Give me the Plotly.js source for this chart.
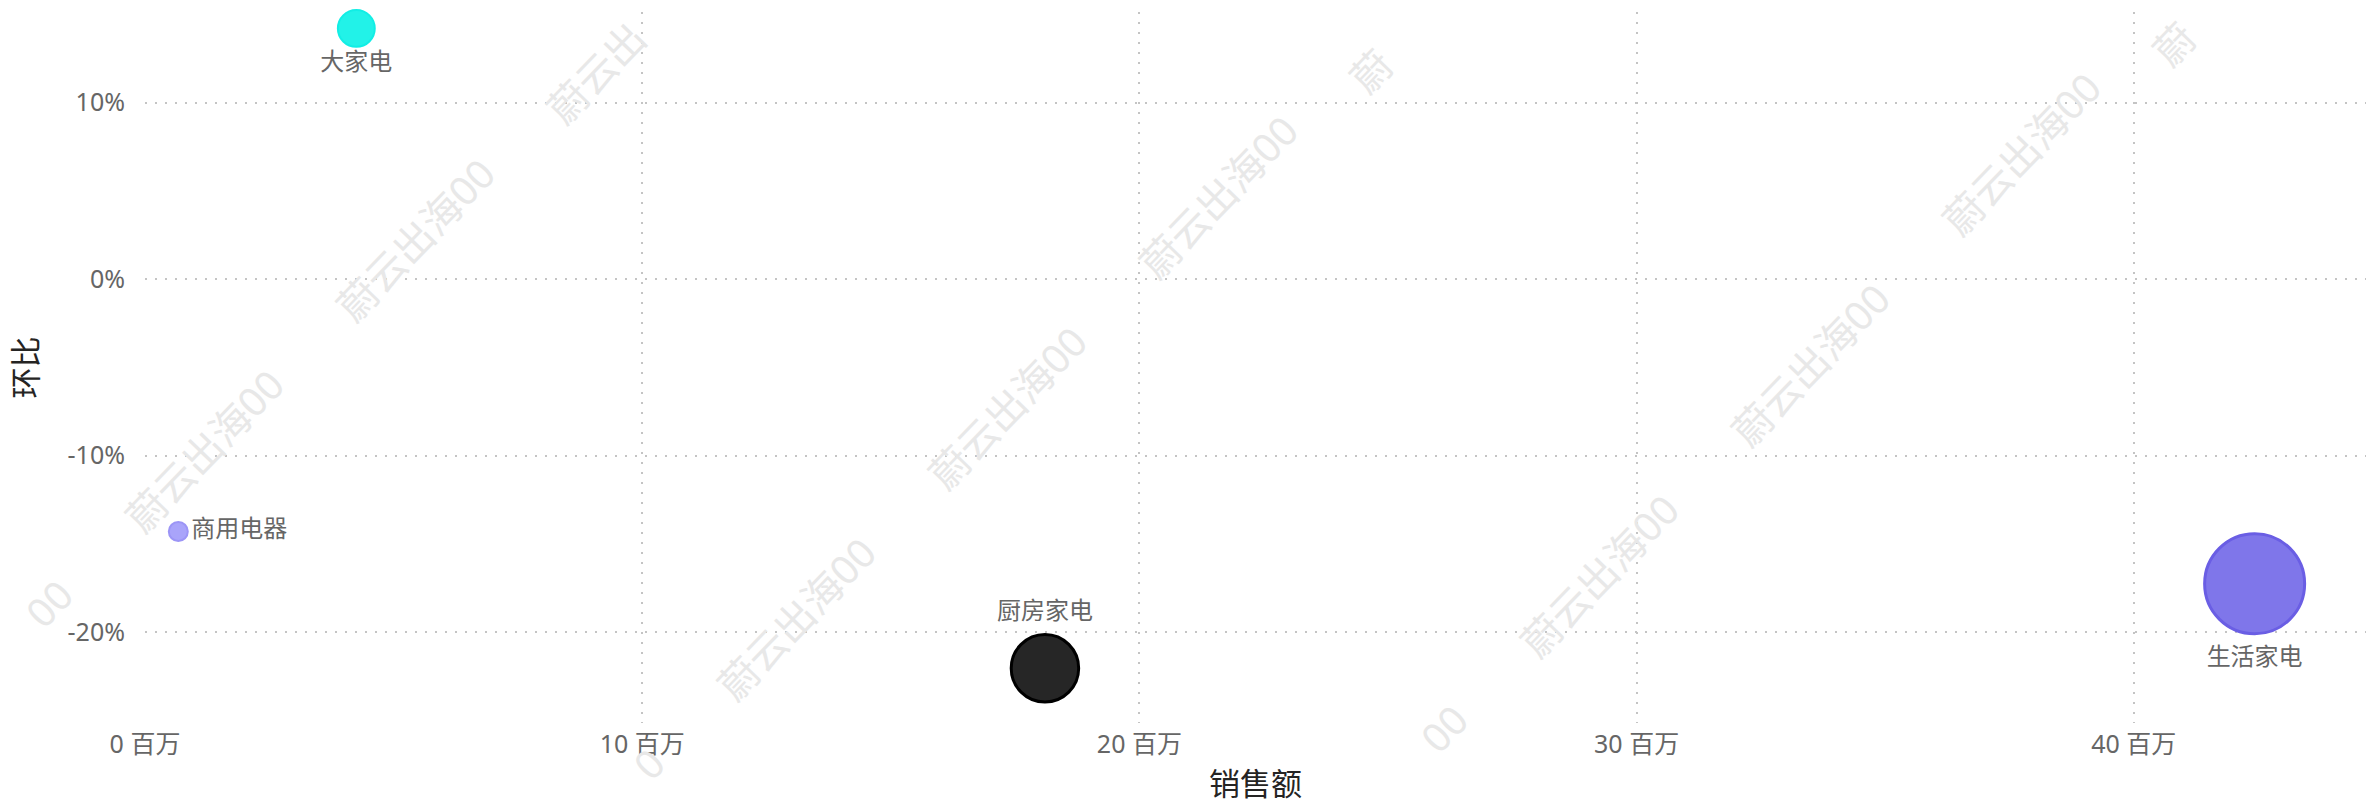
<!DOCTYPE html>
<html>
<head>
<meta charset="utf-8">
<script src="https://cdn.plot.ly/plotly-3.0.1.min.js"></script>
<style>
html,body{margin:0;padding:0;background:#fff;}
#chart{width:2368px;height:804px;}
</style>
</head>
<body>
<div id="chart"></div>
<script>
// ---- data ----
const categories = ['大家电', '商用电器', '厨房家电', '生活家电'];
const salesMillion = [4.25, 0.67, 18.1, 42.43];      // 销售额 (百万)
const momPercent = [14.2, -14.3, -22.05, -17.26];    // 环比 (%)
const xTickVals = [0, 10, 20, 30, 40];
const xTickText = ['0 百万', '10 百万', '20 百万', '30 百万', '40 百万'];
const yTickVals = [-20, -10, 0, 10];
const yTickText = ['-20%', '-10%', '0%', '10%'];
const watermarkText = '蔚云出海00';

// ---- styles ----
const fillColors = ['#22F2E8', '#A9A4FA', '#262626', '#7F76EA'];
const lineColors = ['#12EEE5', '#9C95F6', '#000000', '#6A5EE4'];
const lineWidths = [2, 2, 3, 3];
const labelPositions = ['bottom center', 'middle right', 'top center', 'bottom center'];
const FONT = 'Noto Sans, Noto Sans CJK SC, sans-serif';

// bubble diameter grows with sqrt of sales
const sizes = salesMillion.map((v, i) => 9.2 + 14.4 * Math.sqrt(v) - lineWidths[i]);

const trace = {
  type: 'scatter',
  mode: 'markers+text',
  x: salesMillion,
  y: momPercent,
  text: categories,
  textposition: labelPositions,
  textfont: {family: FONT, size: 24, color: '#666666'},
  marker: {
    size: sizes,
    sizemode: 'diameter',
    color: fillColors,
    opacity: 1,
    line: {color: lineColors, width: lineWidths}
  },
  cliponaxis: false,
  hoverinfo: 'skip'
};

// plot geometry (px)
const W = 2368, H = 804;
const M = {l: 145, r: 2, t: 12, b: 81};
const pw = W - M.l - M.r, ph = H - M.t - M.b;

// ---- watermark lattice (decoration) ----
const WM_SIZE = 40, WM_ANGLE = 46;
const dirX = Math.cos(WM_ANGLE * Math.PI / 180), dirY = -Math.sin(WM_ANGLE * Math.PI / 180);
const chars = Array.from(watermarkText);
const cw = chars.map(c => /[0-9]/.test(c) ? 0.57 * WM_SIZE : WM_SIZE);
const totalW = cw.reduce((a, b) => a + b, 0);
const base = [415, 239], step = [211, -211], offs = [592, 168];
// [i, j, firstChar, lastChar, extra y shift] ; edge copies keep only their visible part
const wmCells = [
  [1, 0, 0, 2, 14], [0, 0, 0, 5, 0], [-1, 0, 0, 5, 0], [-2, 0, 4, 5, 0],
  [2, 1, 0, 0, 26], [1, 1, 0, 5, 0], [0, 1, 0, 5, 0], [-1, 1, 0, 5, 0], [-2, 1, 5, 5, 0],
  [3, 2, 0, 0, 42], [2, 2, 0, 5, 0], [1, 2, 0, 5, 0], [0, 2, 0, 5, 0], [-1, 2, 4, 5, 0]
];
const annotations = wmCells.map(([i, j, a, b, dy]) => {
  const cx = base[0] + i * step[0] + j * offs[0];
  const cy = base[1] + i * step[1] + j * offs[1];
  let start = -totalW / 2;
  for (let k = 0; k < a; k++) start += cw[k];
  let len = 0;
  for (let k = a; k <= b; k++) len += cw[k];
  const s = start + len / 2;
  const px = cx + s * dirX, py = cy + s * dirY + dy;
  return {
    xref: 'paper', yref: 'paper',
    x: (px - M.l) / pw, y: (M.t + ph - py) / ph,
    xanchor: 'center', yanchor: 'middle',
    text: chars.slice(a, b + 1).join(''), showarrow: false, textangle: -WM_ANGLE,
    font: {family: FONT, size: WM_SIZE, color: '#e8e8e8'}
  };
});

const gridStyle = {showgrid: true, gridcolor: '#c4c4c4', gridwidth: 2, griddash: '2px,8px', zeroline: false, showline: false, ticks: ''};

const layout = {
  width: W, height: H,
  margin: M,
  paper_bgcolor: '#ffffff',
  plot_bgcolor: '#ffffff',
  showlegend: false,
  hovermode: false,
  font: {family: FONT},
  xaxis: Object.assign({}, gridStyle, {
    range: [0, 44.67],
    tickvals: xTickVals, ticktext: xTickText,
    tickfont: {family: FONT, size: 25, color: '#666666'},
    ticklabelstandoff: 4,
    title: {text: '销售额', font: {family: FONT, size: 31, color: '#252423'}, standoff: 17}
  }),
  yaxis: Object.assign({}, gridStyle, {
    range: [-25.15, 15.13],
    tickvals: yTickVals, ticktext: yTickText,
    tickfont: {family: FONT, size: 25, color: '#666666'},
    ticklabelstandoff: 19,
    title: {text: '环比', font: {family: FONT, size: 31, color: '#252423'}, standoff: 20}
  }),
  annotations: annotations
};

Plotly.newPlot('chart', [trace], layout, {staticPlot: true, displayModeBar: false});
</script>
</body>
</html>
